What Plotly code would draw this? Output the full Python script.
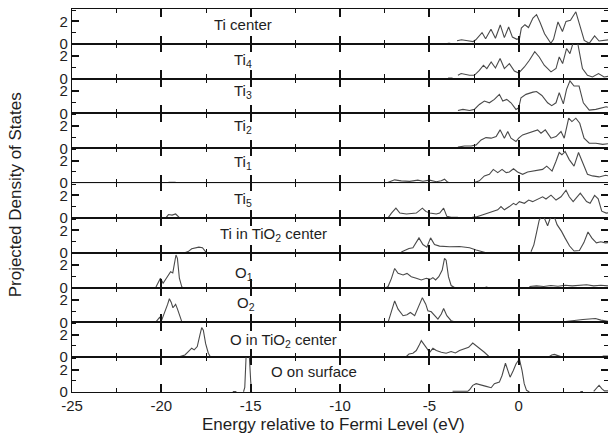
import plotly.graph_objects as go
from plotly.subplots import make_subplots

# ---- data: projected DOS per site (energy in eV relative to E_F) ----
ti_center_e = [-3.97, -3.83, None, -3.45, -3.2, -2.85, -2.55, -2.4, -2.25, -2.05, -1.85, -1.55, -1.3, -1.03,
               -0.8, -0.56, -0.35, -0.1, 0.05, 0.15, 0.35, 0.55, 0.8, 1.0, 1.2, 1.45, 1.8, 1.95, 2.2, 2.45,
               2.65, 2.9, 3.2, 3.45, 3.67, 3.95, 4.25, 4.5, 4.75, 5.0]
ti_center_dos = [0.05, 0.05, None, 0.27, 0.36, 0.27, 0.2, 0.36, 0.6, 1.0, 0.45, 1.3, 0.5, 1.68,
                 0.55, 1.5, 0.6, 0.4, 0.5, 1.4, 1.7, 1.45, 2.3, 2.6, 1.9, 0.9, 0.05, 0.4, 1.95, 1.1,
                 2.0, 2.1, 2.85, 1.5, 0.3, 0.05, 0.7, 0.25, 0.3, 0.35]

ti4_e = [-3.95, -3.7, None, -3.4, -3.22, -2.75, -2.48, -2.2, -1.97, -1.78, -1.54, -1.3, -1.04, -0.8, -0.52,
         -0.24, 0.0, 0.32, 0.6, 0.9, 1.15, 1.43, 1.81, 2.09, 2.27, 2.46, 2.68, 2.87, 3.05, 3.3, 3.57, 3.85,
         4.13, 4.47, 4.78, 5.0]
ti4_dos = [0.05, 0.05, None, 0.3, 0.45, 0.3, 0.3, 0.74, 1.19, 0.9, 1.49, 0.95, 1.79, 0.9, 1.34,
           0.68, 0.5, 1.04, 1.64, 2.4, 1.93, 1.19, 0.6, 0.9, 1.93, 1.34, 2.68, 2.23, 3.2, 3.2, 0.9, 0.3,
           0.15, 0.45, 0.15, 0.2]

ti3_e = [-3.95, -3.85, None, -3.4, -3.12, -2.75, -2.48, -2.2, -1.92, -1.64, -1.36, -1.08, -0.89, -0.67,
         -0.43, -0.15, 0.0, 0.13, 0.41, 0.8, 1.0, 1.3, 1.62, 1.85, 2.09, 2.27, 2.5, 2.68, 2.87, 3.1, 3.38,
         3.62, 3.95, 4.32, 4.6, 4.9, 5.0]
ti3_dos = [0.05, 0.05, None, 0.27, 0.36, 0.27, 0.36, 0.8, 1.1, 0.95, 1.25, 1.7, 1.1, 1.25,
           0.95, 0.36, 0.5, 1.4, 1.7, 1.9, 1.95, 1.6, 0.95, 0.7, 0.95, 1.85, 0.85, 2.14, 2.9, 2.44, 2.44,
           0.95, 0.3, 0.36, 0.45, 0.6, 0.55]

ti2_e = [-3.95, -3.8, None, -3.4, -3.03, -2.66, -2.38, -2.1, -1.83, -1.54, -1.26, -1.04, -0.8, -0.61,
         -0.43, -0.15, 0.0, 0.22, 0.5, 0.78, 1.06, 1.25, 1.49, 1.81, 2.09, 2.37, 2.55, 2.8, 2.98, 3.2,
         3.42, 3.66, 3.95, 4.32, 4.7, 5.0]
ti2_dos = [0.05, 0.05, None, 0.1, 0.2, 0.2, 0.3, 0.74, 0.95, 0.9, 1.04, 1.64, 0.9, 1.49,
           0.9, 0.6, 0.9, 1.19, 1.34, 1.49, 1.64, 1.34, 1.64, 0.9, 1.04, 1.49, 0.9, 2.68, 2.38, 2.68,
           2.23, 0.9, 0.45, 0.45, 0.35, 0.4]

ti1_e = [-19.6, -19.2, None, -7.41, -7.22, -6.94, -6.57, -6.1, -5.64, -5.36, -4.98, -4.61, -4.33, -4.15,
         -3.96, -3.78, None, -3.32, -2.75, None, -2.48, -2.2, -1.92, -1.64, -1.42, -1.17, -0.93, -0.7,
         -0.52, -0.29, -0.06, 0.22, 0.5, 0.78, 1.06, 1.34, 1.57, 1.87, 2.09, 2.27, 2.42, 2.6, 2.83, 3.1,
         3.35, 3.57, 3.85, 4.13, 4.5, 4.87, 5.0]
ti1_dos = [0.06, 0.06, None, 0.0, 0.12, 0.29, 0.2, 0.15, 0.26, 0.17, 0.26, 0.12, 0.2, 0.35,
           0.06, 0.0, None, 0.04, 0.04, None, 0.06, 0.2, 0.64, 0.78, 1.22, 0.93, 1.22, 0.93,
           0.99, 1.28, 0.99, 0.78, 0.99, 1.07, 1.16, 1.22, 1.51, 1.07, 1.94, 2.72, 2.52, 2.81, 2.09, 1.51,
           2.72, 1.8, 0.78, 0.64, 0.55, 0.7, 0.65]

ti5_e = [-19.75, -19.6, -19.4, -19.2, -19.0, None, -7.31, -7.12, -6.87, -6.65, -6.28, -5.73, -5.39, -5.2,
         -4.98, -4.61, -4.42, -4.2, -4.02, -3.78, -3.4, None, -2.6, -2.38, -2.0, -1.64, -1.36, -1.17,
         -0.99, -0.8, -0.52, -0.29, -0.15, 0.04, 0.32, 0.56, 0.78, 1.06, 1.34, 1.53, 1.81, 2.09, 2.37,
         2.65, 2.83, 3.05, 3.45, 3.8, 4.0, 4.25, 4.45, 4.65, 4.9, 5.0]
ti5_dos = [0.0, 0.3, 0.25, 0.35, 0.05, None, 0.0, 0.43, 0.87, 0.43, 0.35, 0.43, 0.87, 0.58,
           0.43, 0.35, 0.43, 0.87, 0.14, 0.06, 0.05, None, 0.05, 0.09, 0.29, 0.49, 0.58, 0.72,
           1.01, 0.72, 1.01, 1.3, 1.16, 1.45, 1.3, 1.59, 1.45, 1.68, 1.88, 1.68, 2.03, 1.59, 1.88,
           2.46, 1.88, 1.45, 2.2, 1.45, 1.3, 2.0, 1.7, 0.6, 0.43, 0.45]

ti_tio2_e = [-18.7, -18.5, -18.3, -18.1, -17.9, -17.7, -17.5, None, -6.57, -6.38, -6.14, -5.92, -5.58,
             -5.36, -5.14, -4.93, -4.71, -4.43, -3.87, -3.31, -2.75, -2.38, -2.1, -1.82, None, 0.69, 0.85,
             1.0, 1.15, 1.35, 1.5, 1.62, 1.75, 1.95, 2.15, 2.4, 2.6, 2.85, 3.1, 3.4, 3.65, 3.88, 4.1, 4.35,
             4.6, 4.85, 5.0]
ti_tio2_dos = [0.0, 0.1, 0.35, 0.42, 0.5, 0.45, 0.05, None, 0.06, 0.2, 0.38, 0.44, 1.32,
               0.73, 0.5, 1.32, 0.73, 0.59, 0.53, 0.56, 0.44, 0.24, 0.15, 0.0, None, 0.09, 0.7,
               1.8, 2.9, 3.4, 2.9, 2.4, 3.0, 3.4, 2.5, 1.9, 1.3, 0.6, 0.15, 0.2, 0.9, 1.85, 1.3, 0.88,
               0.97, 0.88, 0.9]

o1_e = [-20.3, -20.15, -20.05, -19.9, -19.7, -19.6, -19.48, -19.36, -19.25, -19.18, -19.1, -18.99, -18.86,
        -18.8, None, -7.4, -7.31, -7.12, -6.94, -6.75, -6.47, -6.25, -6.01, -5.73, -5.45, -5.17, -4.93,
        -4.8, -4.65, -4.47, -4.28, -4.15, -4.06, -3.93, -3.78, -3.59, None, -1.85, -1.75, None, 0.6, 1.0,
        1.4, 1.8, 2.2, 2.6, 3.0, 3.4, 3.8, 4.2, 4.6, 5.0]
o1_dos = [0.05, 0.45, 0.83, 0.38, 0.9, 1.15, 1.4, 1.3, 2.2, 2.9, 2.6, 0.83, 0.09,
          0.0, None, 0.0, 0.09, 0.82, 1.7, 1.26, 1.12, 1.26, 0.97, 0.82, 0.68, 0.82, 0.74,
          0.88, 0.68, 0.97, 1.56, 2.59, 2.44, 0.97, 0.18, 0.0, None, 0.05, 0.05, None, 0.1, 0.15,
          0.1, 0.18, 0.12, 0.2, 0.15, 0.2, 0.25, 0.15, 0.2, 0.15]

o2_e = [-20.3, -20.1, -19.98, -19.8, -19.65, -19.55, -19.45, -19.35, -19.2, -19.1, -18.95, -18.85, None,
        -7.31, -7.12, -6.94, -6.75, -6.47, -6.25, -6.06, -5.82, -5.58, -5.39, -5.2, -5.08, -4.89, -4.71,
        -4.52, -4.33, -4.2, -4.02, -3.78, -3.59, -3.4, None, 1.3, 2.1, None, 2.5, 2.9, 3.3, 3.6, 3.95,
        4.3, 4.6, 4.9, 5.0]
o2_dos = [0.05, 0.45, 0.2, 0.9, 1.6, 2.1, 1.8, 1.3, 1.6, 1.2, 0.4, 0.05, None,
          0.0, 0.88, 1.91, 1.18, 0.59, 0.68, 0.88, 0.59, 1.47, 2.2, 1.62, 1.03, 0.94, 0.59,
          0.29, 0.74, 1.24, 0.59, 0.15, 0.06, 0.03, None, 0.04, 0.04, None, 0.05, 0.1, 0.15, 0.25, 0.3,
          0.35, 0.2, 0.1, 0.1]

o_tio2_e = [-18.96, -18.68, -18.49, -18.3, -18.16, -17.99, -17.84, -17.74, -17.65, -17.52, -17.37, -17.24,
            None, -6.28, -6.14, -5.92, -5.73, -5.58, -5.45, -5.32, -5.17, -4.98, -4.8, -4.61, -4.33,
            -4.06, -3.78, -3.54, -3.31, -3.03, -2.8, -2.57, -2.38, -2.1, -1.92, -1.68, -1.49, None, 1.7,
            1.85, 2.0, 2.15, 2.35, None, 2.6, 2.75, None, 3.95, 4.3, None, 4.7, 5.0]
o_tio2_dos = [0.05, 0.2, 0.5, 0.8, 0.65, 0.95, 1.98, 2.63, 2.4, 1.2, 0.35, 0.0,
              None, 0.06, 0.29, 0.35, 0.59, 1.03, 1.47, 1.18, 0.88, 0.44, 0.79, 0.59, 0.44,
              0.35, 0.5, 0.38, 0.59, 0.74, 0.88, 1.26, 1.03, 0.74, 0.44, 0.09, 0.0, None, 0.05,
              0.2, 0.25, 0.15, 0.05, None, 0.05, 0.05, None, 0.06, 0.06, None, 0.1, 0.1]

o_surf_e = [-16.0, -15.8, None, -15.4, -15.33, -15.25, -15.08, -15.0, -14.95, None, -3.7, -2.85, -2.75,
            -2.57, -2.38, -2.1, -1.82, -1.54, -1.36, -1.08, -0.93, -0.74, -0.61, -0.48, -0.3, -0.15, 0.04,
            0.19, 0.31, 0.44, 0.6, None, 3.45, 3.6, None, 4.2, 4.35, 4.5, 4.65, 4.8, 5.0]
o_surf_dos = [0.04, 0.04, None, 0.02, 0.4, 3.4, 3.4, 1.0, 0.0, None, 0.06, 0.06, 0.2,
              0.59, 0.74, 0.59, 0.5, 0.38, 0.74, 0.88, 1.47, 2.56, 1.91, 1.32, 1.91, 2.5, 2.94,
              1.91, 0.74, 0.15, 0.0, None, 0.05, 0.05, None, 0.05, 0.3, 0.6, 0.3, 0.1, 0.1]

site_labels = ["Ti center", "Ti<sub>4</sub>", "Ti<sub>3</sub>", "Ti<sub>2</sub>", "Ti<sub>1</sub>",
               "Ti<sub>5</sub>", "Ti in TiO<sub>2</sub> center", "O<sub>1</sub>", "O<sub>2</sub>",
               "O in TiO<sub>2</sub> center", "O on surface"]

x_tick_vals = [-25, -20, -15, -10, -5, 0, 5]
x_tick_text = ["-25", "-20", "-15", "-10", "-5", "0", "5"]
y_tick_vals = [0, 2]
y_tick_text = ["0", "2"]

energies = [ti_center_e, ti4_e, ti3_e, ti2_e, ti1_e, ti5_e, ti_tio2_e, o1_e, o2_e, o_tio2_e, o_surf_e]
dos_values = [ti_center_dos, ti4_dos, ti3_dos, ti2_dos, ti1_dos, ti5_dos, ti_tio2_dos, o1_dos, o2_dos,
              o_tio2_dos, o_surf_dos]

# label placement inside each panel (left edge in eV, vertical centre in DOS units)
label_left = [-17.17, -16.05, -16.05, -16.05, -16.05, -16.05, -16.83, -15.99, -15.88, -16.27, -13.98]
label_mid = [1.68, 1.65, 1.95, 1.9, 1.85, 1.65, 1.65, 1.25, 1.7, 1.5, 1.8]

FONT = "Liberation Sans, Arial, sans-serif"
INK = "#1e1e1e"
n = len(energies)

fig = make_subplots(rows=n, cols=1, shared_xaxes=True, vertical_spacing=0)

for i, (e, d) in enumerate(zip(energies, dos_values), start=1):
    fig.add_trace(go.Scatter(x=e, y=d, mode="lines", connectgaps=False,
                             line=dict(color="#4a4a4a", width=1.1), showlegend=False,
                             hoverinfo="skip"), row=i, col=1)
    fig.add_annotation(text=site_labels[i - 1], x=label_left[i - 1], y=label_mid[i - 1],
                       xanchor="left", yanchor="middle", showarrow=False,
                       font=dict(family=FONT, size=15, color=INK), row=i, col=1)

common_axis = dict(showline=True, linecolor="#111111", linewidth=1.3, mirror="allticks",
                   showgrid=False, zeroline=False, layer="above traces",
                   tickfont=dict(family=FONT, size=15, color=INK))

fig.update_xaxes(range=[-25, 5], tickmode="array", tickvals=x_tick_vals, ticktext=x_tick_text,
                 ticks="inside", ticklen=8, tickwidth=1.7, tickcolor="#111111",
                 minor=dict(dtick=2.5, tick0=0, ticks="inside", ticklen=4,
                            tickwidth=1.4, tickcolor="#111111", showgrid=False),
                 **common_axis)
fig.update_yaxes(range=[0, 3.1], tickmode="array", tickvals=y_tick_vals, ticktext=y_tick_text,
                 ticks="inside", ticklen=7, tickwidth=1.7, tickcolor="#111111",
                 minor=dict(dtick=1, tick0=0, ticks="inside", ticklen=4,
                            tickwidth=1.4, tickcolor="#111111", showgrid=False),
                 **common_axis)

fig.add_annotation(text="Energy relative to Fermi Level (eV)", xref="paper", yref="paper",
                   x=0.487, y=-0.086, xanchor="center", yanchor="middle", showarrow=False,
                   font=dict(family=FONT, size=17, color=INK))
fig.add_annotation(text="Projected Density of States", xref="paper", yref="paper",
                   x=-0.106, y=0.514, xanchor="center", yanchor="middle", showarrow=False,
                   textangle=-90, font=dict(family=FONT, size=17, color=INK))

fig.update_layout(template="none", width=608, height=439, margin=dict(l=72, r=0, t=9, b=47),
                  paper_bgcolor="white", plot_bgcolor="white", font=dict(family=FONT, color=INK))

fig.write_html("out.html")
